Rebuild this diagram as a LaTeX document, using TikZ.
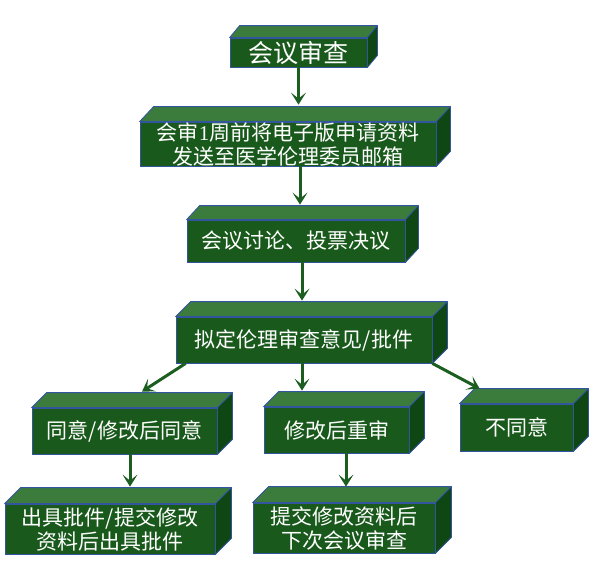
\documentclass[tikz,border=0pt]{standalone}
\usepackage{fontspec}
\newfontfamily\cjk{Noto Sans CJK SC}
\newfontfamily\latn{Liberation Serif}
\usetikzlibrary{arrows.meta}
\definecolor{topc}{HTML}{3B7C3D}
\definecolor{frontc}{HTML}{195A1C}
\definecolor{sidec}{HTML}{0E4713}
\definecolor{edgec}{HTML}{3355A0}
\definecolor{arrc}{HTML}{1B5E20}
\tikzset{
  frontbox/.style={draw=edgec, fill=frontc, line width=0.8pt, text=white, inner sep=0pt,
    align=center, font=\cjk\fontsize{21}{24}\selectfont},
  topface/.style={draw=edgec, fill=topc, line width=0.8pt, line join=round},
  sideface/.style={draw=edgec, fill=sidec, line width=0.8pt, line join=round},
  arr/.style={draw=arrc, line width=3pt, -{Stealth[length=12pt,width=15pt,inset=6pt]}}
}
\newcommand\cubefaces[3]{%
  \filldraw[topface] (#1.north west) -- ([shift={(#2,#3)}]#1.north west)
     -- ([shift={(#2,#3)}]#1.north east) -- (#1.north east) -- cycle;
  \filldraw[sideface] (#1.north east) -- ([shift={(#2,#3)}]#1.north east)
     -- ([shift={(#2,#3)}]#1.south east) -- (#1.south east) -- cycle;
}
\begin{document}
\begin{tikzpicture}[x=1pt,y=-1pt]
\useasboundingbox (0,0) rectangle (600,570);
% boxes
\node[frontbox, minimum width=137pt, minimum height=29pt, font=\cjk\fontsize{25}{28}\selectfont] (n1) at (298.5,52.5) {会议审查};
\cubefaces{n1}{10}{-12}
\node[frontbox, minimum width=296pt, minimum height=44pt] (n2) at (288,144) {会审{\latn 1}周前将电子版申请资料\\发送至医学伦理委员邮箱};
\cubefaces{n2}{14}{-15}
\node[frontbox, minimum width=218pt, minimum height=42pt] (n3) at (296,241) {会议讨论、投票决议};
\cubefaces{n3}{13}{-14}
\node[frontbox, minimum width=256pt, minimum height=46pt] (n4) at (304,340) {拟定伦理审查意见/批件};
\cubefaces{n4}{15}{-15}
\node[frontbox, minimum width=185pt, minimum height=46pt] (n5) at (124.5,431) {同意/修改后同意};
\cubefaces{n5}{15}{-15}
\node[frontbox, minimum width=145pt, minimum height=46pt] (n6) at (336.5,430) {修改后重审};
\cubefaces{n6}{15}{-15}
\node[frontbox, minimum width=113pt, minimum height=47pt] (n8) at (516.5,427.5) {不同意};
\cubefaces{n8}{15}{-15}
\node[frontbox, minimum width=210pt, minimum height=50pt] (n7) at (110,529) {出具批件/提交修改\\资料后出具批件};
\cubefaces{n7}{16}{-16}
\node[frontbox, minimum width=182pt, minimum height=50pt] (n9) at (344,528) {提交修改资料后\\下次会议审查};
\cubefaces{n9}{16}{-16}
% arrow targets
\coordinate (t2) at ([yshift=17pt]n2.north);
\coordinate (t3) at ([yshift=15pt]n3.north);
\coordinate (t4) at ([yshift=16pt]n4.north);
\coordinate (t6) at ([yshift=16pt]n6.north);
\coordinate (t5) at ([shift={(17.5pt,16pt)}]n5.north);
\coordinate (t8) at ([shift={(20pt,15pt)}]n8.north west);
\coordinate (t7) at ([yshift=17pt]n7.north);
\coordinate (t9) at ([yshift=16pt]n9.north);
\coordinate (s2) at ([xshift=12pt]n2.south);
\coordinate (s3) at ([xshift=6pt]n3.south);
\coordinate (s4) at ([xshift=-2pt]n4.south);
\coordinate (s5) at ([xshift=5.5pt]n5.south);
\coordinate (s6) at ([xshift=9.5pt]n6.south);
% arrows
\draw[arr] (n1.south) -- (n1.south |- t2);
\draw[arr] (s2) -- (s2 |- t3);
\draw[arr] (s3) -- (s3 |- t4);
\draw[arr] (s4) -- (s4 |- t6);
\draw[arr] ([xshift=10pt]n4.south west) -- (t5);
\draw[arr] (n4.south east) -- (t8);
\draw[arr] (s5) -- (s5 |- t7);
\draw[arr] (s6) -- (s6 |- t9);
\end{tikzpicture}
\end{document}
